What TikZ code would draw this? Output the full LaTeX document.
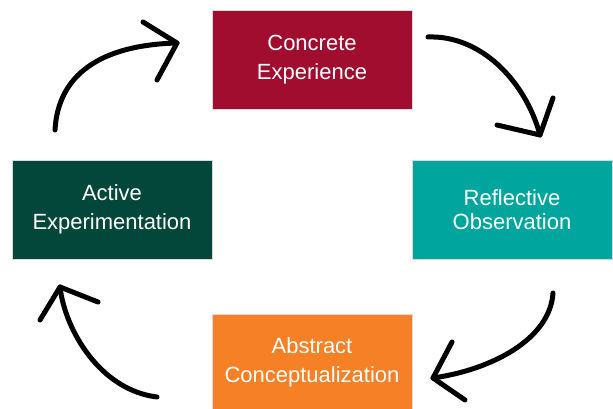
\documentclass[tikz,border=0pt]{standalone}
\usepackage{fontspec}
\setmainfont{Liberation Sans}
\definecolor{crimson}{HTML}{A00D2F}
\definecolor{tealc}{HTML}{00A69D}
\definecolor{darkgreen}{HTML}{03473B}
\definecolor{orangec}{HTML}{F58025}
\begin{document}
\begin{tikzpicture}[x=1pt,y=-1pt,
  box/.style={rectangle, draw=white!85!black, line width=0.6pt, text=white, align=center, inner sep=0pt,
    minimum width=200pt, minimum height=99pt, font=\fontsize{22}{29}\selectfont},
  cyc/.style={line width=5pt, line cap=round, line join=round, black},
]
\useasboundingbox (0,0) rectangle (613,409);
\fill[white] (0,0) rectangle (613,409);
\node[box, fill=crimson] (ce) at (312,59.5) {Concrete\\Experience};
\node[box, fill=tealc, font=\fontsize{22}{24}\selectfont] (ro) at (512,209.5) {Reflective\\Observation};
\node[box, fill=darkgreen] (ae) at (112,209.5) {Active\\Experimentation};
\node[box, fill=orangec, minimum height=96pt] (ac) at (312,362) {Abstract\\Conceptualization};
% arrow end points
\coordinate (a1s) at (55,130); \coordinate (a1t) at (177,43);
\coordinate (a1l) at (143,22); \coordinate (a1r) at (157,80);
\coordinate (a2s) at (428,37); \coordinate (a2t) at (540,135);
\coordinate (a2l) at (497,125); \coordinate (a2r) at (553,98);
\coordinate (a3s) at (553,293); \coordinate (a3t) at (433,378);
\coordinate (a3l) at (452,342); \coordinate (a3r) at (465,400);
\coordinate (a4s) at (157,397); \coordinate (a4t) at (60,287);
\coordinate (a4l) at (40,320); \coordinate (a4r) at (98,302);
\draw[cyc] (a1s) .. controls (58,75) and (100,45) .. (a1t);
\draw[cyc] (a1l) -- (a1t) -- (a1r);
\draw[cyc] (a2s) .. controls (480,35) and (525,80) .. (a2t);
\draw[cyc] (a2l) -- (a2t) -- (a2r);
\draw[cyc] (a3s) .. controls (550,340) and (490,370) .. (a3t);
\draw[cyc] (a3l) -- (a3t) -- (a3r);
\draw[cyc] (a4s) .. controls (100,390) and (65,330) .. (a4t);
\draw[cyc] (a4l) -- (a4t) -- (a4r);
\end{tikzpicture}
\end{document}
